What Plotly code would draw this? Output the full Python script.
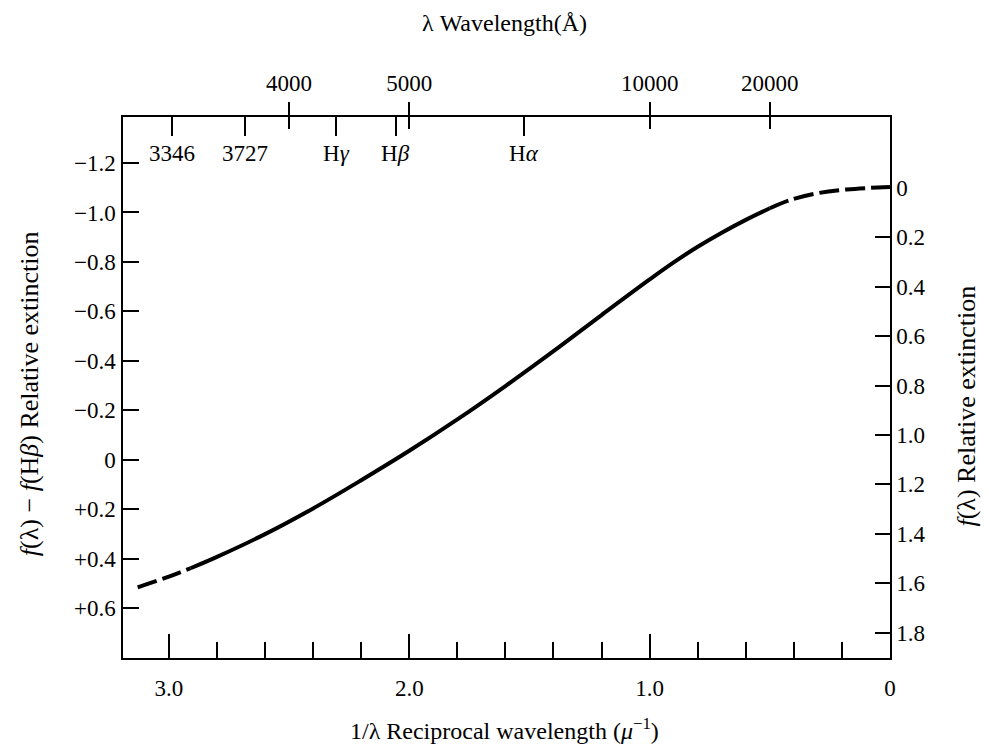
import plotly.graph_objects as go

# ---- data ----
inv_lambda = [3.13, 3.0, 2.91, 2.8, 2.6, 2.4, 2.2, 2.0, 1.8, 1.6, 1.4, 1.2,
              1.0, 0.9, 0.8, 0.7, 0.6, 0.5, 0.42, 0.3, 0.18, 0.05, 0.0]
rel_ext = [0.516, 0.473, 0.439, 0.393, 0.301, 0.197, 0.083, -0.036, -0.163, -0.298, -0.439, -0.585,
           -0.729, -0.798, -0.861, -0.918, -0.970, -1.017, -1.049, -1.078, -1.093, -1.101, -1.103]
# segment limits (indices): dashed / solid / dashed
solid_start, solid_end = 2, 17

offset_right = 1.10   # f(lambda) = [f(lambda) - f(Hbeta)] + offset

bottom_major = [3.0, 2.0, 1.0, 0.0]
bottom_major_text = ["3.0", "2.0", "1.0", "0"]
bottom_minor = [2.8, 2.6, 2.4, 2.2, 1.8, 1.6, 1.4, 1.2, 0.8, 0.6, 0.4, 0.2]

wavelengths = [4000, 5000, 10000, 20000]
line_wavelengths = [3346, 3727, 4340.5, 4861, 6563]
line_names = ["3346", "3727", "H<i>γ</i>", "H<i>β</i>", "H<i>α</i>"]

left_ticks = [-1.2, -1.0, -0.8, -0.6, -0.4, -0.2, 0.0, 0.2, 0.4, 0.6]
left_text = ["−1.2", "−1.0", "−0.8", "−0.6", "−0.4", "−0.2", "0", "+0.2", "+0.4", "+0.6"]
right_ticks = [0, 0.2, 0.4, 0.6, 0.8, 1.0, 1.2, 1.4, 1.6, 1.8]
right_text = ["0", "0.2", "0.4", "0.6", "0.8", "1.0", "1.2", "1.4", "1.6", "1.8"]

# ---- figure ----
FONT = "Liberation Serif"
FS = 23
BLACK = "black"
x_range = [3.191, 0]
y_range = [0.802, -1.386]
y2_range = [y_range[0] + offset_right, y_range[1] + offset_right]

wl_pos = [1e4 / w for w in wavelengths]
line_pos = [1e4 / w for w in line_wavelengths]

fig = go.Figure()
line_style = dict(color=BLACK, width=4)
fig.add_trace(go.Scatter(x=inv_lambda[:solid_start + 1], y=rel_ext[:solid_start + 1],
                         mode="lines", line=dict(**line_style, dash="20px,6px", shape="spline"),
                         showlegend=False, hoverinfo="skip"))
fig.add_trace(go.Scatter(x=inv_lambda[solid_start:solid_end + 1], y=rel_ext[solid_start:solid_end + 1],
                         mode="lines", line=dict(**line_style, shape="spline"),
                         showlegend=False, hoverinfo="skip"))
fig.add_trace(go.Scatter(x=inv_lambda[solid_end:], y=rel_ext[solid_end:],
                         mode="lines", line=dict(**line_style, dash="20px,6px", shape="spline"),
                         showlegend=False, hoverinfo="skip"))
# carriers for the overlay axes
fig.add_trace(go.Scatter(x=[None], y=[None], xaxis="x2", yaxis="y", showlegend=False, hoverinfo="skip"))
fig.add_trace(go.Scatter(x=[None], y=[None], xaxis="x3", yaxis="y", showlegend=False, hoverinfo="skip"))
fig.add_trace(go.Scatter(x=[None], y=[None], xaxis="x", yaxis="y2", showlegend=False, hoverinfo="skip"))

axis_common = dict(showgrid=False, zeroline=False, showline=True, linecolor=BLACK, linewidth=1.5,
                   tickcolor=BLACK, tickwidth=1.5, tickfont=dict(family=FONT, size=FS, color=BLACK))

fig.update_layout(
    width=989, height=744,
    margin=dict(l=115, r=107, t=109, b=94),
    paper_bgcolor="white", plot_bgcolor="white",
    xaxis=dict(**axis_common, range=x_range, tickmode="array", tickvals=bottom_major,
               ticktext=bottom_major_text, ticks="inside", ticklen=24, ticklabelstandoff=9,
               minor=dict(tickmode="array", tickvals=bottom_minor, ticks="inside", ticklen=16,
                          tickcolor=BLACK, tickwidth=1.5, showgrid=False)),
    xaxis2=dict(**axis_common, overlaying="x", side="top", range=x_range, tickmode="array",
                tickvals=wl_pos, ticktext=[str(w) for w in wavelengths], ticks="outside",
                ticklen=13, ticklabelstandoff=2),
    xaxis3=dict(**axis_common, overlaying="x", side="top", range=x_range, tickmode="array",
                tickvals=line_pos, showticklabels=False, ticks="inside", ticklen=19,
                minor=dict(tickmode="array", tickvals=wl_pos, ticks="inside", ticklen=12,
                           tickcolor=BLACK, tickwidth=1.5, showgrid=False)),
    yaxis=dict(**axis_common, range=y_range, tickmode="array", tickvals=left_ticks,
               ticktext=left_text, ticks="inside", ticklen=16, ticklabelstandoff=1),
    yaxis2=dict(**axis_common, overlaying="y", side="right", range=y2_range, tickmode="array",
                tickvals=right_ticks, ticktext=right_text, ticks="inside", ticklen=15,
                ticklabelstandoff=0),
)

ann_font = dict(family=FONT, size=FS, color=BLACK)
title_font = dict(family=FONT, size=24, color=BLACK)
vtitle_font = dict(family=FONT, size=26, color=BLACK)
for pos, name in zip(line_pos, line_names):
    fig.add_annotation(x=pos, xref="x", y=0.933, yref="paper", text=name, showarrow=False,
                       xanchor="center", yanchor="middle", font=ann_font)

fig.add_annotation(x=0.497, y=1.174, xref="paper", yref="paper", text="λ Wavelength(Å)",
                   showarrow=False, xanchor="center", yanchor="middle", font=title_font)
fig.add_annotation(x=0.498, y=-0.163, xref="paper", yref="paper",
                   text="1/λ Reciprocal wavelength (<i>μ</i><sup>−1</sup>)",
                   showarrow=False, xanchor="center", yanchor="bottom", font=title_font)
fig.add_annotation(x=-0.121, y=0.488, xref="paper", yref="paper", textangle=-90,
                   text="<i>f</i>(λ) − <i>f</i>(H<i>β</i>) Relative extinction",
                   showarrow=False, xanchor="center", yanchor="middle", font=vtitle_font)
fig.add_annotation(x=1.100, y=0.466, xref="paper", yref="paper", textangle=-90,
                   text="<i>f</i>(λ) Relative extinction",
                   showarrow=False, xanchor="center", yanchor="middle", font=vtitle_font)

fig.write_html("out.html")
